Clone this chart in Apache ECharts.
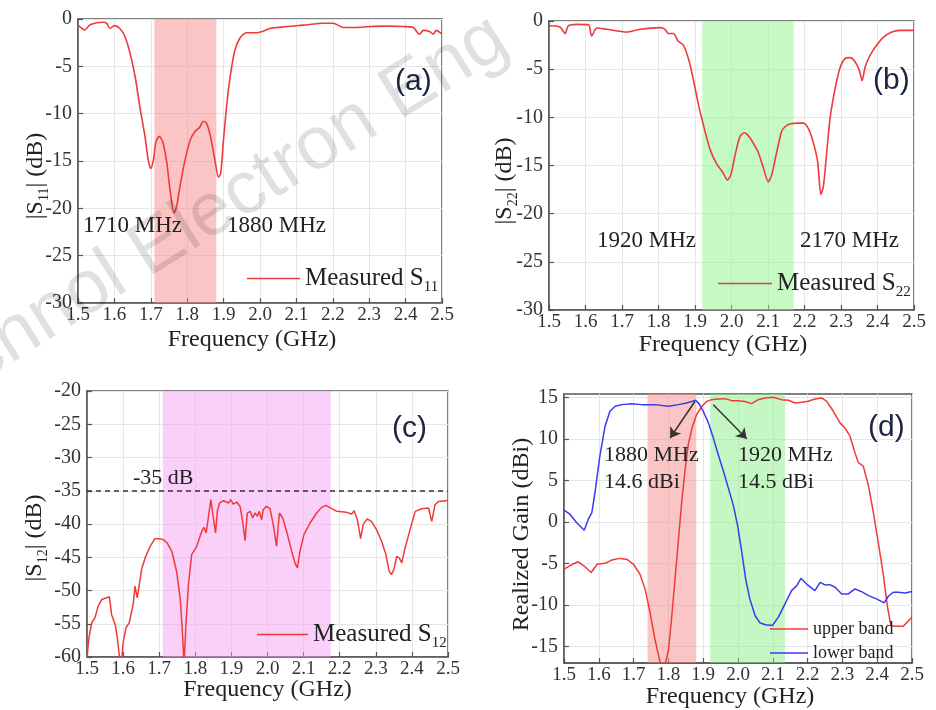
<!DOCTYPE html>
<html><head><meta charset="utf-8">
<script src="https://cdn.jsdelivr.net/npm/echarts@6.0.0/dist/echarts.min.js"></script>
<style>html,body{margin:0;padding:0;background:#fff}#c{width:936px;height:710px}</style>
</head><body><div id="c"></div>
<script>
// ---------- data ----------
const xTicks = [1.5, 2.5, 0.1];            // min, max, step of frequency axes (GHz)
const gainTicks = [-15, -10, -5, 0, 5, 10, 15];

const s11Freq = [1.500,1.519,1.533,1.570,1.579,1.588,1.600,1.615,1.629,1.643,1.657,1.670,1.684,1.693,1.700,1.707,1.714,1.723,1.733,1.744,1.753,1.764,1.771,1.780,1.794,1.808,1.821,1.835,1.844,1.853,1.864,1.876,1.886,1.892,1.899,1.908,1.918,1.931,1.945,1.963,1.991,2.009,2.027,2.073,2.119,2.174,2.201,2.229,2.256,2.302,2.348,2.394,2.421,2.438,2.449,2.467,2.476,2.484,2.500];
const s11Val = [-0.65,-1.16,-0.6,-0.35,-0.46,-1.0,-0.7,-1.0,-1.87,-3.6,-6.1,-9.3,-12.4,-14.9,-15.8,-14.9,-13.0,-12.4,-13.0,-15.2,-18.1,-20.5,-19.8,-17.7,-14.9,-12.8,-11.9,-11.4,-10.8,-11.0,-12.4,-14.9,-16.7,-16.3,-13.1,-9.3,-6.1,-3.3,-2.0,-1.45,-1.45,-1.3,-1.0,-0.8,-0.65,-0.45,-0.45,-0.9,-0.9,-0.8,-0.75,-0.8,-0.9,-1.6,-1.2,-1.35,-1.6,-1.2,-1.6];

const s22Freq = [1.500,1.530,1.544,1.553,1.576,1.608,1.617,1.631,1.658,1.713,1.749,1.804,1.818,1.827,1.841,1.854,1.868,1.882,1.895,1.909,1.923,1.941,1.959,1.976,1.989,1.998,2.010,2.023,2.035,2.046,2.060,2.073,2.087,2.101,2.110,2.124,2.137,2.146,2.160,2.183,2.197,2.211,2.224,2.236,2.245,2.252,2.261,2.270,2.284,2.297,2.311,2.325,2.338,2.350,2.358,2.366,2.379,2.398,2.416,2.439,2.462,2.500];
const s22Val = [-0.5,-0.62,-1.3,-0.5,-0.35,-0.38,-1.56,-0.73,-0.86,-1.14,-0.86,-0.69,-0.86,-1.3,-1.3,-2.1,-2.5,-3.9,-6.0,-8.6,-10.8,-13.3,-14.8,-15.7,-16.5,-16.0,-13.9,-12.0,-11.6,-11.9,-12.7,-13.6,-15.2,-16.7,-16.0,-13.6,-11.5,-11.0,-10.7,-10.6,-10.6,-11.2,-12.6,-14.6,-18.0,-17.1,-13.6,-10.1,-7.0,-4.9,-3.9,-3.8,-4.2,-5.1,-6.2,-4.8,-3.6,-2.5,-1.7,-1.14,-0.97,-0.97];

const s12Freq = [1.500,1.5055,1.513,1.522,1.531,1.541,1.562,1.568,1.578,1.584,
  1.590,1.596,1.600,1.608,1.617,1.628,1.633,1.639,1.645,1.651,
  1.661,1.675,1.688,1.702,1.713,1.722,1.735,1.748,1.758,1.763,
  1.769,1.774,1.781,1.790,1.804,1.818,1.824,1.830,1.836,1.843,
  1.850,1.856,1.861,1.867,1.878,1.892,1.898,1.905,1.915,1.924,
  1.931,1.938,1.944,1.952,1.959,1.965,1.972,1.977,1.984,1.988,
  1.997,2.007,2.016,2.025,2.033,2.042,2.053,2.067,2.076,2.083,
  2.090,2.101,2.118,2.136,2.150,2.162,2.175,2.192,2.219,2.233,
  2.240,2.249,2.258,2.265,2.276,2.288,2.302,2.316,2.328,2.337,
  2.343,2.350,2.358,2.365,2.372,2.381,2.395,2.409,2.427,2.446,
  2.455,2.464,2.474,2.500];
const s12Val = [-60,-57.1,-54.85,-54.1,-52.35,-51.35,-50.95,-53.6,-55.1,-57.1,
  -60,-60.5,-57.85,-55.6,-54.85,-52.1,-49.35,-51.1,-49.1,-46.85,
  -45.1,-43.35,-42.2,-42.2,-42.4,-42.85,-44.1,-47.1,-51.1,-55.1,
  -61,-55.1,-49.1,-44.6,-43.35,-41.1,-40.5,-41.35,-39.1,-36.35,
  -39.1,-41.35,-38.1,-36.85,-36.5,-36.85,-36.35,-37.0,-36.7,-37.35,
  -39.6,-42.5,-38.35,-38.1,-39.1,-38.35,-38.85,-38.1,-39.35,-37.85,
  -37.35,-37.7,-40.1,-43.35,-38.35,-39.1,-41.1,-44.1,-45.85,-46.6,
  -44.1,-41.6,-39.85,-38.35,-37.5,-37.2,-37.6,-38.1,-38.25,-38.5,
  -38.0,-39.35,-42.2,-40.1,-39.25,-39.6,-40.85,-42.6,-44.6,-47.1,
  -47.6,-46.85,-44.85,-45.1,-45.85,-43.6,-40.85,-38.1,-37.7,-37.6,
  -39.6,-37.1,-36.6,-36.45];
const isolationLevel = -35;

const upperFreq = [1.500,1.520,1.540,1.560,1.578,1.595,1.618,1.637,1.661,1.680,
  1.699,1.718,1.733,1.747,1.761,1.776,1.783,1.792,1.800,1.809,
  1.819,1.829,1.838,1.848,1.857,1.869,1.881,1.896,1.910,1.924,
  1.943,1.963,1.982,2.001,2.020,2.039,2.058,2.078,2.102,2.125,
  2.145,2.164,2.183,2.202,2.221,2.240,2.255,2.274,2.293,2.307,
  2.322,2.336,2.346,2.360,2.375,2.389,2.403,2.418,2.429,2.439,
  2.451,2.475,2.488,2.500];
const upperVal = [-5.7,-5.2,-4.8,-5.4,-6.1,-5.1,-5.0,-4.6,-4.4,-4.5,
  -5.08,-6.28,-8.08,-10.88,-14.08,-16.9,-17.3,-16.9,-15.5,-11.7,
  -6.9,-2.1,2.3,6.3,9.3,11.5,12.9,13.9,14.5,14.72,
  14.8,14.84,14.6,14.6,14.5,14.24,14.72,14.92,15.0,14.72,
  14.64,14.32,14.4,14.52,14.8,14.92,14.52,13.32,11.92,11.32,
  10.32,8.32,7.12,6.72,4.32,1.12,-2.48,-6.48,-10.08,-12.48,
  -12.56,-12.56,-12.0,-11.48];

const lowerFreq = [1.500,1.517,1.536,1.558,1.570,1.580,1.589,1.603,1.618,1.632,
  1.647,1.666,1.694,1.723,1.761,1.800,1.829,1.852,1.869,1.878,
  1.888,1.900,1.915,1.929,1.943,1.958,1.972,1.987,1.999,2.011,
  2.022,2.034,2.049,2.063,2.078,2.099,2.116,2.135,2.154,2.169,
  2.181,2.200,2.221,2.236,2.250,2.264,2.279,2.298,2.317,2.336,
  2.355,2.375,2.398,2.420,2.432,2.446,2.461,2.480,2.500];
const lowerVal = [1.4,0.92,-0.08,-1.0,0.32,1.12,3.52,7.92,11.52,13.32,
  13.92,14.12,14.24,14.12,14.12,13.92,14.12,14.32,14.52,14.64,
  14.24,13.32,11.92,10.12,8.12,6.12,4.12,1.92,-0.48,-3.68,
  -6.88,-9.28,-11.28,-12.16,-12.4,-12.48,-11.48,-9.88,-8.28,-7.68,
  -6.8,-7.6,-8.28,-7.28,-7.6,-7.56,-7.88,-8.68,-8.68,-8.08,
  -8.4,-8.88,-9.28,-9.76,-8.96,-8.48,-8.48,-8.56,-8.4];

// shaded bands (GHz)
const bandA = [1.71, 1.88];
const bandB = [1.92, 2.17];
const bandC = [1.71, 2.175];
const bandD1 = [1.74, 1.88];
const bandD2 = [1.92, 2.135];
// arrows in (d): [startFreq, startGain, endFreq, endGain]
const arrow1 = [1.876, 14.5, 1.805, 10.1];
const arrow2 = [1.929, 14.1, 2.025, 10.0];

// ---------- styling ----------
const SERIF = 'Liberation Serif, Times New Roman, serif';
const SANS = 'Liberation Sans, Arial, sans-serif';
const RED = '#f03a3a';
const BLUE = '#3a3af0';
const AX = '#555';
const zip = (f, v) => f.map((x, i) => [x, v[i]]);

const nameRich = {
  m: {fontFamily: SERIF, fontSize: 24, lineHeight: 30, color: '#222'},
  s: {fontFamily: SERIF, fontSize: 14, lineHeight: 10, verticalAlign: 'bottom', color: '#222'}
};

function xAx(gi, nameGap, padR) {
  return {
    type: 'value', gridIndex: gi, min: xTicks[0], max: xTicks[1], interval: xTicks[2],
    name: 'Frequency (GHz)', nameLocation: 'middle', nameGap: nameGap, nameMoveOverlap: false,
    nameTextStyle: {fontFamily: SERIF, fontSize: 24, color: '#222', padding: [0, padR, 0, 0]},
    axisLine: {show: true, onZero: false, lineStyle: {color: AX, width: 1.5}},
    axisTick: {show: true, inside: true, length: 5, lineStyle: {color: AX, width: 1.2}},
    axisLabel: {fontFamily: SERIF, fontSize: 19, color: '#333', margin: 3,
      formatter: v => v.toFixed(1)},
    splitLine: {show: true, lineStyle: {color: '#e6e6e6', width: 1}}
  };
}
function yAx(gi, min, max, name, nameGap, padR, extra) {
  const o = {
    type: 'value', gridIndex: gi, min: min, max: max, interval: 5,
    name: name, nameLocation: 'middle', nameGap: nameGap, nameMoveOverlap: false,
    nameTextStyle: {fontFamily: SERIF, fontSize: 24, color: '#222', padding: [0, padR, 0, 0], rich: nameRich},
    axisLine: {show: true, onZero: false, lineStyle: {color: AX, width: 1.5}},
    axisTick: {show: true, inside: true, length: 5, lineStyle: {color: AX, width: 1.2}},
    axisLabel: {fontFamily: SERIF, fontSize: 20, color: '#333', margin: 6},
    splitLine: {show: true, lineStyle: {color: '#e6e6e6', width: 1}}
  };
  return Object.assign(o, extra || {});
}
const gridBase = {show: true, borderColor: AX, borderWidth: 1.5, backgroundColor: 'transparent', containLabel: false};

const subFmt = n => { const m = n.match(/^(.*S)(\d+)$/); return m ? '{m|' + m[1] + '}{s|' + m[2] + '}' : n; };
const legRich = {
  m: {fontFamily: SERIF, fontSize: 25, lineHeight: 32, color: '#222'},
  s: {fontFamily: SERIF, fontSize: 15, lineHeight: 10, verticalAlign: 'bottom', color: '#222'}
};
function legendS(name, left, top, w) {
  return {data: [name], left: left, top: top, padding: 0, itemWidth: w, itemHeight: 1.6, icon: 'rect',
    selectedMode: false, formatter: subFmt, textStyle: {rich: legRich, fontFamily: SERIF, fontSize: 25, color: '#222'}};
}
function band(b, color) {
  return {silent: true, label: {show: false}, itemStyle: {color: color},
    data: [[{xAxis: b[0]}, {xAxis: b[1]}]]};
}
function txt(x, y, s, size, font, fill) {
  return {type: 'text', x: x, y: y, silent: true, z: 50,
    style: {text: s, font: size + 'px ' + (font || SERIF), fill: fill || '#222',
      align: 'left', verticalAlign: 'middle', textAlign: 'left', textVerticalAlign: 'middle'}};
}

const chart = echarts.init(document.getElementById('c'), null, {renderer: 'canvas'});
chart.setOption({
  animation: false,
  backgroundColor: '#fff',
  textStyle: {fontFamily: SERIF},
  grid: [
    Object.assign({left: 78, top: 19, width: 364, height: 284}, gridBase),
    Object.assign({left: 549, top: 21, width: 365, height: 289}, gridBase),
    Object.assign({left: 87, top: 391, width: 361, height: 266}, gridBase),
    Object.assign({left: 564, top: 394, width: 348, height: 270}, gridBase)
  ],
  xAxis: [xAx(0, 25, 16), xAx(1, 23, 17), xAx(2, 21, 0), xAx(3, 22, 16)],
  yAxis: [
    yAx(0, -30, 0, '{m||S}{s|11}{m|| (dB)}', 27, 30),
    yAx(1, -30, 0, '{m||S}{s|22}{m|| (dB)}', 29, 31),
    yAx(2, -60, -20, '{m||S}{s|12}{m|| (dB)}', 37, 28),
    yAx(3, -17, 15.4, 'Realized Gain (dBi)', 30, 12, {
      interval: null,
      axisLabel: {fontFamily: SERIF, fontSize: 20, color: '#333', margin: 6, customValues: gainTicks},
      axisTick: {show: true, inside: true, length: 5, lineStyle: {color: AX, width: 1.2}, customValues: gainTicks}
    })
  ],
  legend: [
    legendS('Measured S11', 247, 266, 53),
    legendS('Measured S22', 718, 271, 54),
    legendS('Measured S12', 257, 622, 51),
    {data: ['upper band', 'lower band'], orient: 'vertical', left: 770, top: 620, padding: 0,
      itemWidth: 38, itemHeight: 1.6, icon: 'rect', itemGap: 6, selectedMode: false,
      textStyle: {fontFamily: SERIF, fontSize: 18, lineHeight: 18, color: '#222'}}
  ],
  series: [
    {type: 'line', name: 'Measured S11', xAxisIndex: 0, yAxisIndex: 0, data: zip(s11Freq, s11Val),
      symbol: 'none', smooth: 0.25, lineStyle: {color: RED, width: 1.6}, itemStyle: {color: RED},
      markArea: band(bandA, 'rgba(250,140,140,0.5)')},
    {type: 'line', name: 'Measured S22', xAxisIndex: 1, yAxisIndex: 1, data: zip(s22Freq, s22Val),
      symbol: 'none', smooth: 0.25, lineStyle: {color: RED, width: 1.6}, itemStyle: {color: RED},
      markArea: band(bandB, 'rgba(140,245,140,0.5)')},
    {type: 'line', name: 'Measured S12', xAxisIndex: 2, yAxisIndex: 2, data: zip(s12Freq, s12Val),
      symbol: 'none', lineStyle: {color: RED, width: 1.5}, itemStyle: {color: RED},
      markArea: band(bandC, 'rgba(245,160,245,0.5)'),
      markLine: {silent: true, symbol: ['none', 'none'], label: {show: false},
        lineStyle: {color: '#333', width: 1.5, type: [5, 4]}, data: [{yAxis: isolationLevel}]}},
    {type: 'line', name: 'upper band', xAxisIndex: 3, yAxisIndex: 3, data: zip(upperFreq, upperVal),
      symbol: 'none', lineStyle: {color: RED, width: 1.5}, itemStyle: {color: RED},
      markArea: {silent: true, label: {show: false}, data: [
        [{xAxis: bandD1[0], itemStyle: {color: 'rgba(245,140,140,0.5)'}}, {xAxis: bandD1[1]}],
        [{xAxis: bandD2[0], itemStyle: {color: 'rgba(140,240,140,0.5)'}}, {xAxis: bandD2[1]}]
      ]}},
    {type: 'line', name: 'lower band', xAxisIndex: 3, yAxisIndex: 3, data: zip(lowerFreq, lowerVal),
      symbol: 'none', lineStyle: {color: BLUE, width: 1.5}, itemStyle: {color: BLUE},
      markLine: {silent: true, symbol: ['none', 'arrow'], symbolSize: 10, label: {show: false},
        lineStyle: {color: '#333', width: 1.5, type: 'solid'},
        data: [
          [{coord: [arrow1[0], arrow1[1]]}, {coord: [arrow1[2], arrow1[3]]}],
          [{coord: [arrow2[0], arrow2[1]]}, {coord: [arrow2[2], arrow2[3]]}]
        ]}}
  ],
  graphic: [
    txt(395, 82, '(a)', 30, SANS, '#1b2440'),
    txt(873, 81, '(b)', 30, SANS, '#1b2440'),
    txt(392, 429, '(c)', 30, SANS, '#1b2440'),
    txt(868, 428, '(d)', 30, SANS, '#1b2440'),
    txt(83, 226, '1710 MHz', 23),
    txt(227, 226, '1880 MHz', 23),
    txt(597, 241, '1920 MHz', 23),
    txt(800, 241, '2170 MHz', 23),
    txt(133, 478, '-35 dB', 22),
    txt(604, 455, '1880 MHz', 22),
    txt(604, 482, '14.6 dBi', 22),
    txt(738, 455, '1920 MHz', 22),
    txt(738, 482, '14.5 dBi', 22),
    {type: 'text', x: -80, y: 440, rotation: 32 * Math.PI / 180, silent: true, z: 100,
      style: {text: 'Technol Electron Eng', font: '75px ' + SANS, fill: 'rgba(0,0,0,0.12)',
        align: 'left', verticalAlign: 'bottom', textAlign: 'left', textVerticalAlign: 'bottom'}}
  ]
});
</script></body></html>
